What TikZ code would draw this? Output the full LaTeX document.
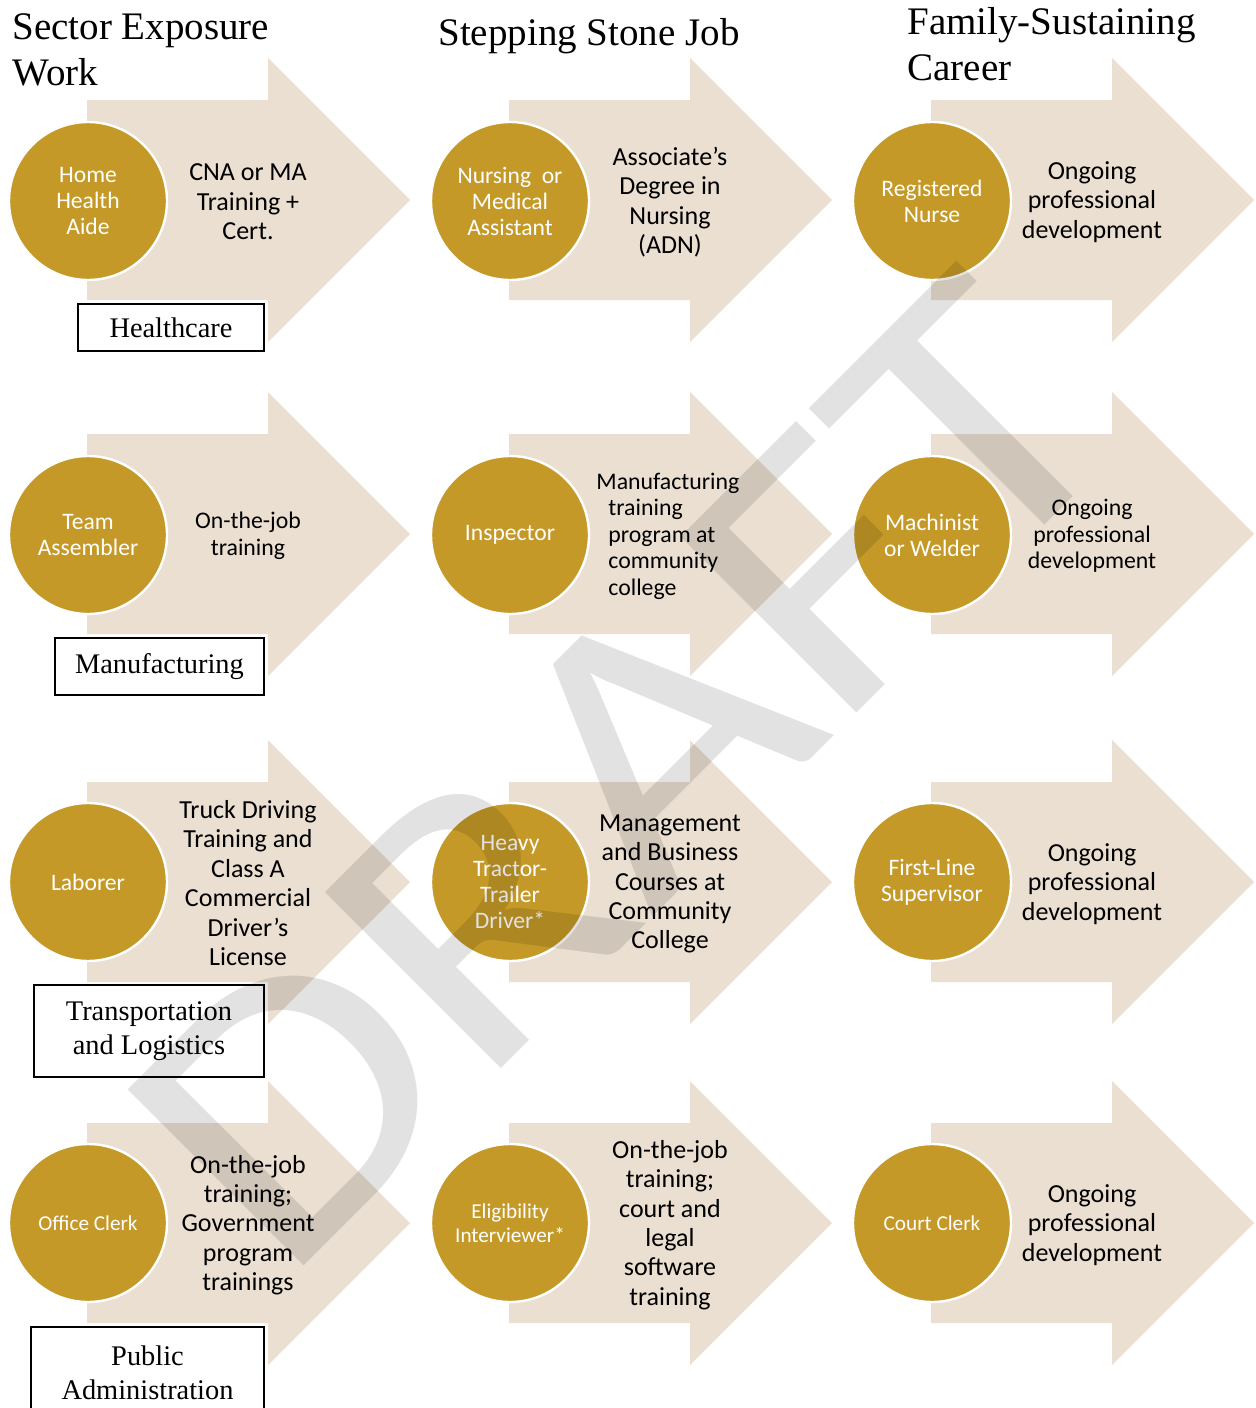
\documentclass[tikz,border=0pt]{standalone}
\usepackage{fontspec}
\setmainfont{Liberation Serif}
\newfontfamily\calibri{Carlito}
\definecolor{stonebeige}{RGB}{234,223,209}
\definecolor{jobgold}{RGB}{196,153,39}
\definecolor{draftgray}{RGB}{226,226,226}
\begin{document}
\begin{tikzpicture}[x=0.5pt, y=-0.5pt,
	steparrow/.style={fill=stonebeige},
	jobcircle/.style={circle, fill=jobgold, draw=white, line width=1.2pt, minimum size=79pt, inner sep=0pt, text=white, align=center, font=\calibri\fontsize{11.8}{13}\selectfont},
	smalljob/.style={jobcircle, font=\calibri\fontsize{10.6}{12}\selectfont},
	steptext/.style={align=center, inner sep=0pt, font=\calibri\fontsize{13}{14.7}\selectfont},
	smalltext/.style={steptext, font=\calibri\fontsize{11.9}{13.25}\selectfont},
	sectorbox/.style={draw, line width=1pt, fill=white, anchor=east, align=center, inner sep=0pt, font=\fontsize{14.2}{17}\selectfont},
	heading/.style={anchor=base west, align=left, inner sep=0pt, font=\fontsize{19.5}{23}\selectfont},
	draftmark/.style={text=draftgray, inner sep=0pt, rotate=45, xscale=1.16, font=\calibri\fontsize{194}{194}\selectfont}]
	\useasboundingbox (0,0) rectangle (1255,1408);
	% column headings (base = last line)
	\node[heading] (H1)at(12, 85) {Sector Exposure\\Work};
	\node[heading] (H2)at(438, 45) {Stepping Stone Job};
	\node[heading] (H3)at(907, 80) {Family-Sustaining\\Career};
	% arrows
	\fill[steparrow, shift={(88,200)}] (-1,-100) -- (180,-100) -- (180,-142) -- (322,0) -- (180,142) -- (180,100) -- (-1,100) -- cycle;
	\fill[steparrow, shift={(510,200)}] (-1,-100) -- (180,-100) -- (180,-142) -- (322,0) -- (180,142) -- (180,100) -- (-1,100) -- cycle;
	\fill[steparrow, shift={(932,200)}] (-1,-100) -- (180,-100) -- (180,-142) -- (322,0) -- (180,142) -- (180,100) -- (-1,100) -- cycle;
	\fill[steparrow, shift={(88,534)}] (-1,-100) -- (180,-100) -- (180,-142) -- (322,0) -- (180,142) -- (180,100) -- (-1,100) -- cycle;
	\fill[steparrow, shift={(510,534)}] (-1,-100) -- (180,-100) -- (180,-142) -- (322,0) -- (180,142) -- (180,100) -- (-1,100) -- cycle;
	\fill[steparrow, shift={(932,534)}] (-1,-100) -- (180,-100) -- (180,-142) -- (322,0) -- (180,142) -- (180,100) -- (-1,100) -- cycle;
	\fill[steparrow, shift={(88,882)}] (-1,-100) -- (180,-100) -- (180,-142) -- (322,0) -- (180,142) -- (180,100) -- (-1,100) -- cycle;
	\fill[steparrow, shift={(510,882)}] (-1,-100) -- (180,-100) -- (180,-142) -- (322,0) -- (180,142) -- (180,100) -- (-1,100) -- cycle;
	\fill[steparrow, shift={(932,882)}] (-1,-100) -- (180,-100) -- (180,-142) -- (322,0) -- (180,142) -- (180,100) -- (-1,100) -- cycle;
	\fill[steparrow, shift={(88,1223)}] (-1,-100) -- (180,-100) -- (180,-142) -- (322,0) -- (180,142) -- (180,100) -- (-1,100) -- cycle;
	\fill[steparrow, shift={(510,1223)}] (-1,-100) -- (180,-100) -- (180,-142) -- (322,0) -- (180,142) -- (180,100) -- (-1,100) -- cycle;
	\fill[steparrow, shift={(932,1223)}] (-1,-100) -- (180,-100) -- (180,-142) -- (322,0) -- (180,142) -- (180,100) -- (-1,100) -- cycle;
	% healthcare
	\node[jobcircle] (HHA)at(88, 201) {Home\\Health\\Aide};
	\node[jobcircle] (NMA)at(510, 201) {Nursing~ or\\Medical\\Assistant};
	\node[jobcircle] (RN)at(932, 201) {Registered\\Nurse};
	\node[steptext] (tHHA)at(248, 202) {CNA or MA\\Training +\\Cert.};
	\node[steptext] (tNMA)at(670, 202) {Associate’s\\Degree in\\Nursing\\(ADN)};
	\node[steptext] (tRN)at(1092, 202) {Ongoing\\professional\\development};
	\node[sectorbox, minimum width=93pt, minimum height=23.5pt] (HC)at(265, 327.5) {Healthcare};
	% manufacturing
	\node[jobcircle] (TA)at(88, 535) {Team\\Assembler};
	\node[jobcircle] (INS)at(510, 535) {Inspector};
	\node[jobcircle] (MW)at(932, 535) {Machinist\\or Welder};
	\node[smalltext] (tTA)at(248, 536) {On-the-job\\training};
	\node[smalltext, anchor=west, align=left] (tINS)at(608, 536) {\hspace*{-6pt}Manufacturing\\training\\program at\\community\\college};
	\node[smalltext] (tMW)at(1092, 536) {Ongoing\\professional\\development};
	\node[sectorbox, minimum width=104.5pt, minimum height=28.5pt] (MF)at(265, 666.5) {Manufacturing};
	% transportation
	\node[jobcircle] (LAB)at(88, 882) {Laborer};
	\node[jobcircle] (HTD)at(510, 882) {Heavy\\Tractor-\\Trailer\\Driver*};
	\node[jobcircle] (FLS)at(932, 882) {First-Line\\Supervisor};
	\node[steptext] (tLAB)at(248, 883) {Truck Driving\\Training and\\Class A\\Commercial\\Driver’s\\License};
	\node[steptext] (tHTD)at(670, 884) {Management\\and Business\\Courses at\\Community\\College};
	\node[steptext] (tFLS)at(1092, 884) {Ongoing\\professional\\development};
	\node[sectorbox, minimum width=115pt, minimum height=46pt] (TL)at(265, 1031) {Transportation\\and Logistics};
	% public administration
	\node[smalljob] (OC)at(88, 1223) {Office Clerk};
	\node[smalljob] (EI)at(510, 1223) {Eligibility\\Interviewer*};
	\node[smalljob] (CC)at(932, 1223) {Court Clerk};
	\node[steptext] (tOC)at(248, 1225) {On-the-job\\training;\\Government\\program\\trainings};
	\node[steptext] (tEI)at(670, 1225) {On-the-job\\training;\\court and\\legal\\software\\training};
	\node[steptext] (tCC)at(1092, 1225) {Ongoing\\professional\\development};
	\node[sectorbox, minimum width=116.5pt, minimum height=45.5pt] (PA)at(265, 1372.5) {Public\\Administration};
	% watermark
	\begin{scope}[blend mode=multiply]
		\node[draftmark] (DR)at(622, 772) {DRAFT};
	\end{scope}
\end{tikzpicture}
\end{document}
